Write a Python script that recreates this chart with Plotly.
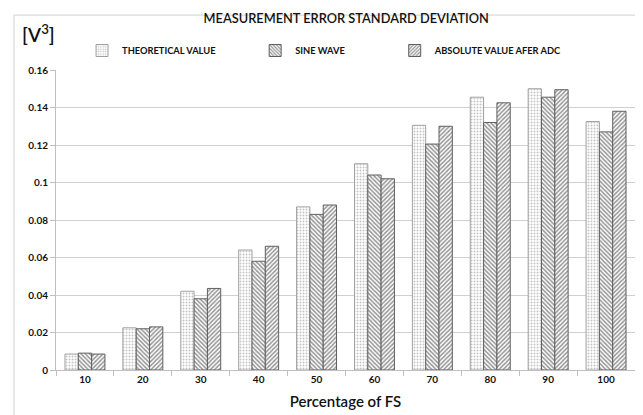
import plotly.graph_objects as go

categories = ["10", "20", "30", "40", "50", "60", "70", "80", "90", "100"]
theoretical = [0.0085, 0.0225, 0.042, 0.064, 0.087, 0.110, 0.1305, 0.1455, 0.150, 0.1325]
sine_wave = [0.009, 0.022, 0.038, 0.058, 0.083, 0.104, 0.1205, 0.132, 0.1455, 0.127]
abs_adc = [0.0085, 0.023, 0.0435, 0.066, 0.088, 0.102, 0.130, 0.1425, 0.1495, 0.138]
y_ticks = [0, 0.02, 0.04, 0.06, 0.08, 0.1, 0.12, 0.14, 0.16]
y_tick_labels = ["0", "0.02", "0.04", "0.06", "0.08", "0.1", "0.12", "0.14", "0.16"]

FONT = "Lato"
LEG_FONT = dict(size=9.3, family=FONT, color="#111111", weight="bold")

fig = go.Figure()
fig.add_bar(x=categories, y=theoretical, name="THEORETICAL VALUE", legend="legend", showlegend=True,
            marker=dict(color="white", line=dict(color="#a0a0a0", width=1),
                        pattern=dict(shape=".", fgcolor="#8a8a8a", bgcolor="white", size=3, solidity=0.35)))
fig.add_bar(x=categories, y=sine_wave, name="SINE WAVE", legend="legend2", showlegend=True,
            marker=dict(color="white", line=dict(color="#606060", width=1),
                        pattern=dict(shape="\\", fgcolor="#2a2a2a", bgcolor="white", size=3, solidity=0.5)))
fig.add_bar(x=categories, y=abs_adc, name="ABSOLUTE VALUE AFER ADC", legend="legend3", showlegend=True,
            marker=dict(color="white", line=dict(color="#606060", width=1),
                        pattern=dict(shape="/", fgcolor="#2a2a2a", bgcolor="white", size=3, solidity=0.5)))

def leg(x):
    return dict(orientation="h", x=x, y=1.065, xanchor="left", yanchor="middle",
                font=LEG_FONT, itemwidth=30, bgcolor="rgba(0,0,0,0)")

fig.update_layout(
    width=643, height=415,
    margin=dict(l=48, r=16, t=62, b=53),
    paper_bgcolor="white", plot_bgcolor="white",
    showlegend=True,
    barmode="group", bargap=0.31, bargroupgap=0,
    font=dict(family=FONT, color="#222222"),
    title=dict(text="MEASUREMENT ERROR STANDARD DEVIATION", x=0.526, xanchor="center",
               y=0.975, yanchor="middle", font=dict(size=12.8, family=FONT, color="#111111", weight=600)),
    legend=leg(0.045),
    legend2=leg(0.344),
    legend3=leg(0.585),
    xaxis=dict(showgrid=False, showline=True, linecolor="#bfbfbf", linewidth=1,
               ticks="outside", ticklen=5, tickcolor="#bfbfbf", tickson="boundaries",
               tickfont=dict(size=10, family=FONT, color="#111111", weight="bold"),
               title=dict(text="Percentage of FS", font=dict(size=15, family=FONT, color="#111111", weight=600),
                          standoff=12)),
    yaxis=dict(range=[0, 0.16], tickvals=y_ticks, ticktext=y_tick_labels,
               showgrid=True, gridcolor="#d0d0d0", gridwidth=1,
               showline=True, linecolor="#bfbfbf", linewidth=1,
               ticks="outside", ticklen=5, tickcolor="#bfbfbf",
               tickfont=dict(size=10, family=FONT, color="#111111", weight="bold"),
               zeroline=False),
)
fig.add_annotation(text="[V<sup>3</sup>]", xref="paper", yref="paper", x=-0.062, y=1.123,
                   xanchor="left", yanchor="middle", showarrow=False,
                   font=dict(size=19, family=FONT, color="#111111", weight=600))
# chart frame (top and left edges visible)
fig.add_shape(type="line", xref="paper", yref="paper", x0=-0.0725, x1=-0.0725, y0=-0.2, y1=1.183,
              line=dict(color="#d0d0d0", width=1))
fig.add_shape(type="line", xref="paper", yref="paper", x0=-0.0725, x1=1.03, y0=1.183, y1=1.183,
              line=dict(color="#d0d0d0", width=1))

fig.write_html("out.html")
